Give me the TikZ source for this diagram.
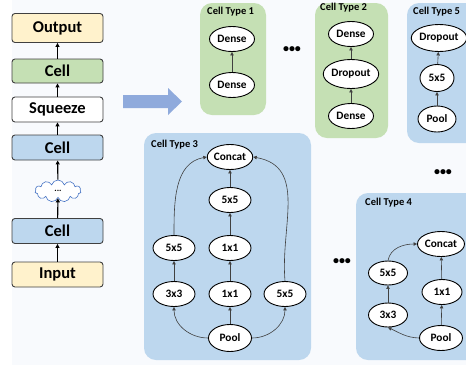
\documentclass[tikz,border=0pt]{standalone}
\usepackage{fontspec}
\setmainfont{Carlito}
\usetikzlibrary{shapes.geometric,shapes.symbols,arrows.meta}
\definecolor{bg}{HTML}{F8FAFD}
\definecolor{cgreen}{HTML}{C5E0B4}
\definecolor{cblue}{HTML}{BDD7EE}
\definecolor{cyellow}{HTML}{FFF2CC}
\definecolor{bord}{HTML}{404040}
\definecolor{arrowblue}{HTML}{8FAADC}
\definecolor{cloudblue}{HTML}{4472C4}
\begin{document}
\begin{tikzpicture}[x=1pt,y=-1pt,
  lbox/.style={draw=bord, line width=0.9pt, rounded corners=3pt, minimum width=91pt, minimum height=25pt, inner sep=0pt, font=\fontsize{16.5}{19}\selectfont\bfseries},
  larrow/.style={draw=black, line width=1.1pt, -{Triangle[length=4pt,width=4pt]}},
  op/.style={ellipse, draw=black, line width=0.9pt, fill=white, minimum width=45pt, minimum height=25pt, inner sep=0pt, font=\fontsize{11.3}{13}\selectfont\bfseries},
  carrow/.style={draw=bord, line width=0.6pt, -{Triangle[length=3.5pt,width=3.5pt]}},
  ctype/.style={rounded corners=12pt, draw=none},
  ttl/.style={anchor=west, inner sep=0pt, font=\fontsize{10.5}{12}\selectfont\bfseries},
  dots/.style={inner sep=0pt, font=\fontsize{12}{14}\selectfont\bfseries}
]
\useasboundingbox (0,0) rectangle (466,365);
\fill[bg] (12,0) rectangle (466,365);

% left column
\node[lbox, fill=cyellow, minimum height=29pt] (out) at (57.5,28) {Output};
\node[lbox, fill=cgreen, minimum height=24pt] (cellg) at (57.5,71) {Cell};
\node[lbox, fill=white] (sq) at (57.5,109.5) {Squeeze};
\node[lbox, fill=cblue] (cellb) at (57.5,147.5) {Cell};
\node[cloud, cloud puffs=11, aspect=2.2, draw=cloudblue, line width=0.6pt, fill=white, minimum width=46pt, minimum height=22pt, inner sep=0pt, font=\fontsize{9}{10}\selectfont\bfseries] (cloud) at (58,191) {...};
\node[lbox, fill=cblue] (cellc) at (57.5,231) {Cell};
\node[lbox, fill=cyellow] (inp) at (57.5,274.5) {Input};
\draw[larrow] (inp) -- (cellc);
\draw[larrow] (cellc) -- (cloud);
\draw[larrow] (cloud) -- (cellb);
\draw[larrow] (cellb) -- (sq);
\draw[larrow] (sq) -- (cellg);
\draw[larrow] (cellg) -- (out);

% big arrow
\fill[arrowblue] (123,95) -- (168,95) -- (168,88) -- (182,101.5) -- (168,115) -- (168,108) -- (123,108) -- cycle;

% Cell type 1
\fill[cgreen, ctype] (200,3) rectangle (266,115);
\node[ttl] (t1) at (207,12) {Cell Type 1};
\node[op] (a1) at (232,39) {Dense};
\node[op] (a2) at (232,85) {Dense};
\draw[carrow] (a2) -- (a1);

\node[dots] (d1) at (292,50) {\textbullet\textbullet\textbullet};

% Cell type 2
\fill[cgreen, ctype] (315,3) rectangle (388,138);
\node[ttl] (t2) at (320,8) {Cell Type 2};
\node[op] (b1) at (351,34) {Dense};
\node[op, minimum width=51pt, minimum height=29pt] (b2) at (351,74) {Dropout};
\node[op] (b3) at (351,116) {Dense};
\draw[carrow] (b3) -- (b2);
\draw[carrow] (b2) -- (b1);

% Cell type 5
\fill[cblue, ctype] (407,3) rectangle (480,143);
\node[ttl] (t5) at (413,12) {Cell Type 5};
\node[op, minimum width=46pt, minimum height=27pt] (e1) at (439,38) {Dropout};
\node[op, minimum width=34pt, minimum height=27pt] (e2) at (437,78) {5x5};
\node[op, minimum width=38pt, minimum height=26pt] (e3) at (437,119) {Pool};
\draw[carrow] (e3) -- (e2);
\draw[carrow] (e2) -- (e1);

\node[dots] (d5) at (443,173) {\textbullet\textbullet\textbullet};

% Cell type 3
\fill[cblue, ctype] (144,133) rectangle (311,360);
\node[ttl] (t3) at (151,145) {Cell Type 3};
\node[op] (cc) at (230,157) {Concat};
\node[op, minimum width=42pt] (c55) at (230,200) {5x5};
\node[op, minimum width=42pt] (c11a) at (230,248) {1x1};
\node[op, minimum width=42pt] (c11b) at (230,294) {1x1};
\node[op, minimum width=43pt, minimum height=27pt] (cpool) at (230,338) {Pool};
\node[op, minimum width=42pt] (cl55) at (174,248) {5x5};
\node[op, minimum width=42pt] (c33) at (174,294) {3x3};
\node[op, minimum width=42pt] (cr55) at (285,294) {5x5};
\draw[carrow] (cpool) -- (c11b);
\draw[carrow] (c11b) -- (c11a);
\draw[carrow] (c11a) -- (c55);
\draw[carrow] (c55) -- (cc);
\draw[carrow] (c33) -- (cl55);
\draw[carrow] (cpool.west) to[out=180,in=-90] (c33.south);
\draw[carrow] (cpool.east) to[out=0,in=-90] (cr55.south);
\draw[carrow] (cl55.north) to[out=90,in=190] (cc.west);
\draw[carrow] (cr55.north) to[out=95,in=-10,looseness=1.1] (cc.east);

\node[dots] (d34) at (342,262) {\textbullet\textbullet\textbullet};

% Cell type 4
\fill[cblue, ctype] (356,193) rectangle (480,360);
\node[ttl] (t4) at (365,203) {Cell Type 4};
\node[op, minimum width=47pt] (fc) at (441,244) {Concat};
\node[op, minimum width=40pt] (f11) at (442,292) {1x1};
\node[op, minimum width=43pt] (fpool) at (441,338) {Pool};
\node[op, minimum width=39pt, minimum height=24pt] (f55) at (388,273) {5x5};
\node[op, minimum width=39pt, minimum height=24pt] (f33) at (388,315) {3x3};
\draw[carrow] (fpool) -- (f11);
\draw[carrow] (f11) -- (fc);
\draw[carrow] (f33) -- (f55);
\draw[carrow] (f55.north) to[out=80,in=180] (fc.west);
\draw[carrow] (fpool.west) to[out=178,in=-25] (f33.south);
\end{tikzpicture}
\end{document}
